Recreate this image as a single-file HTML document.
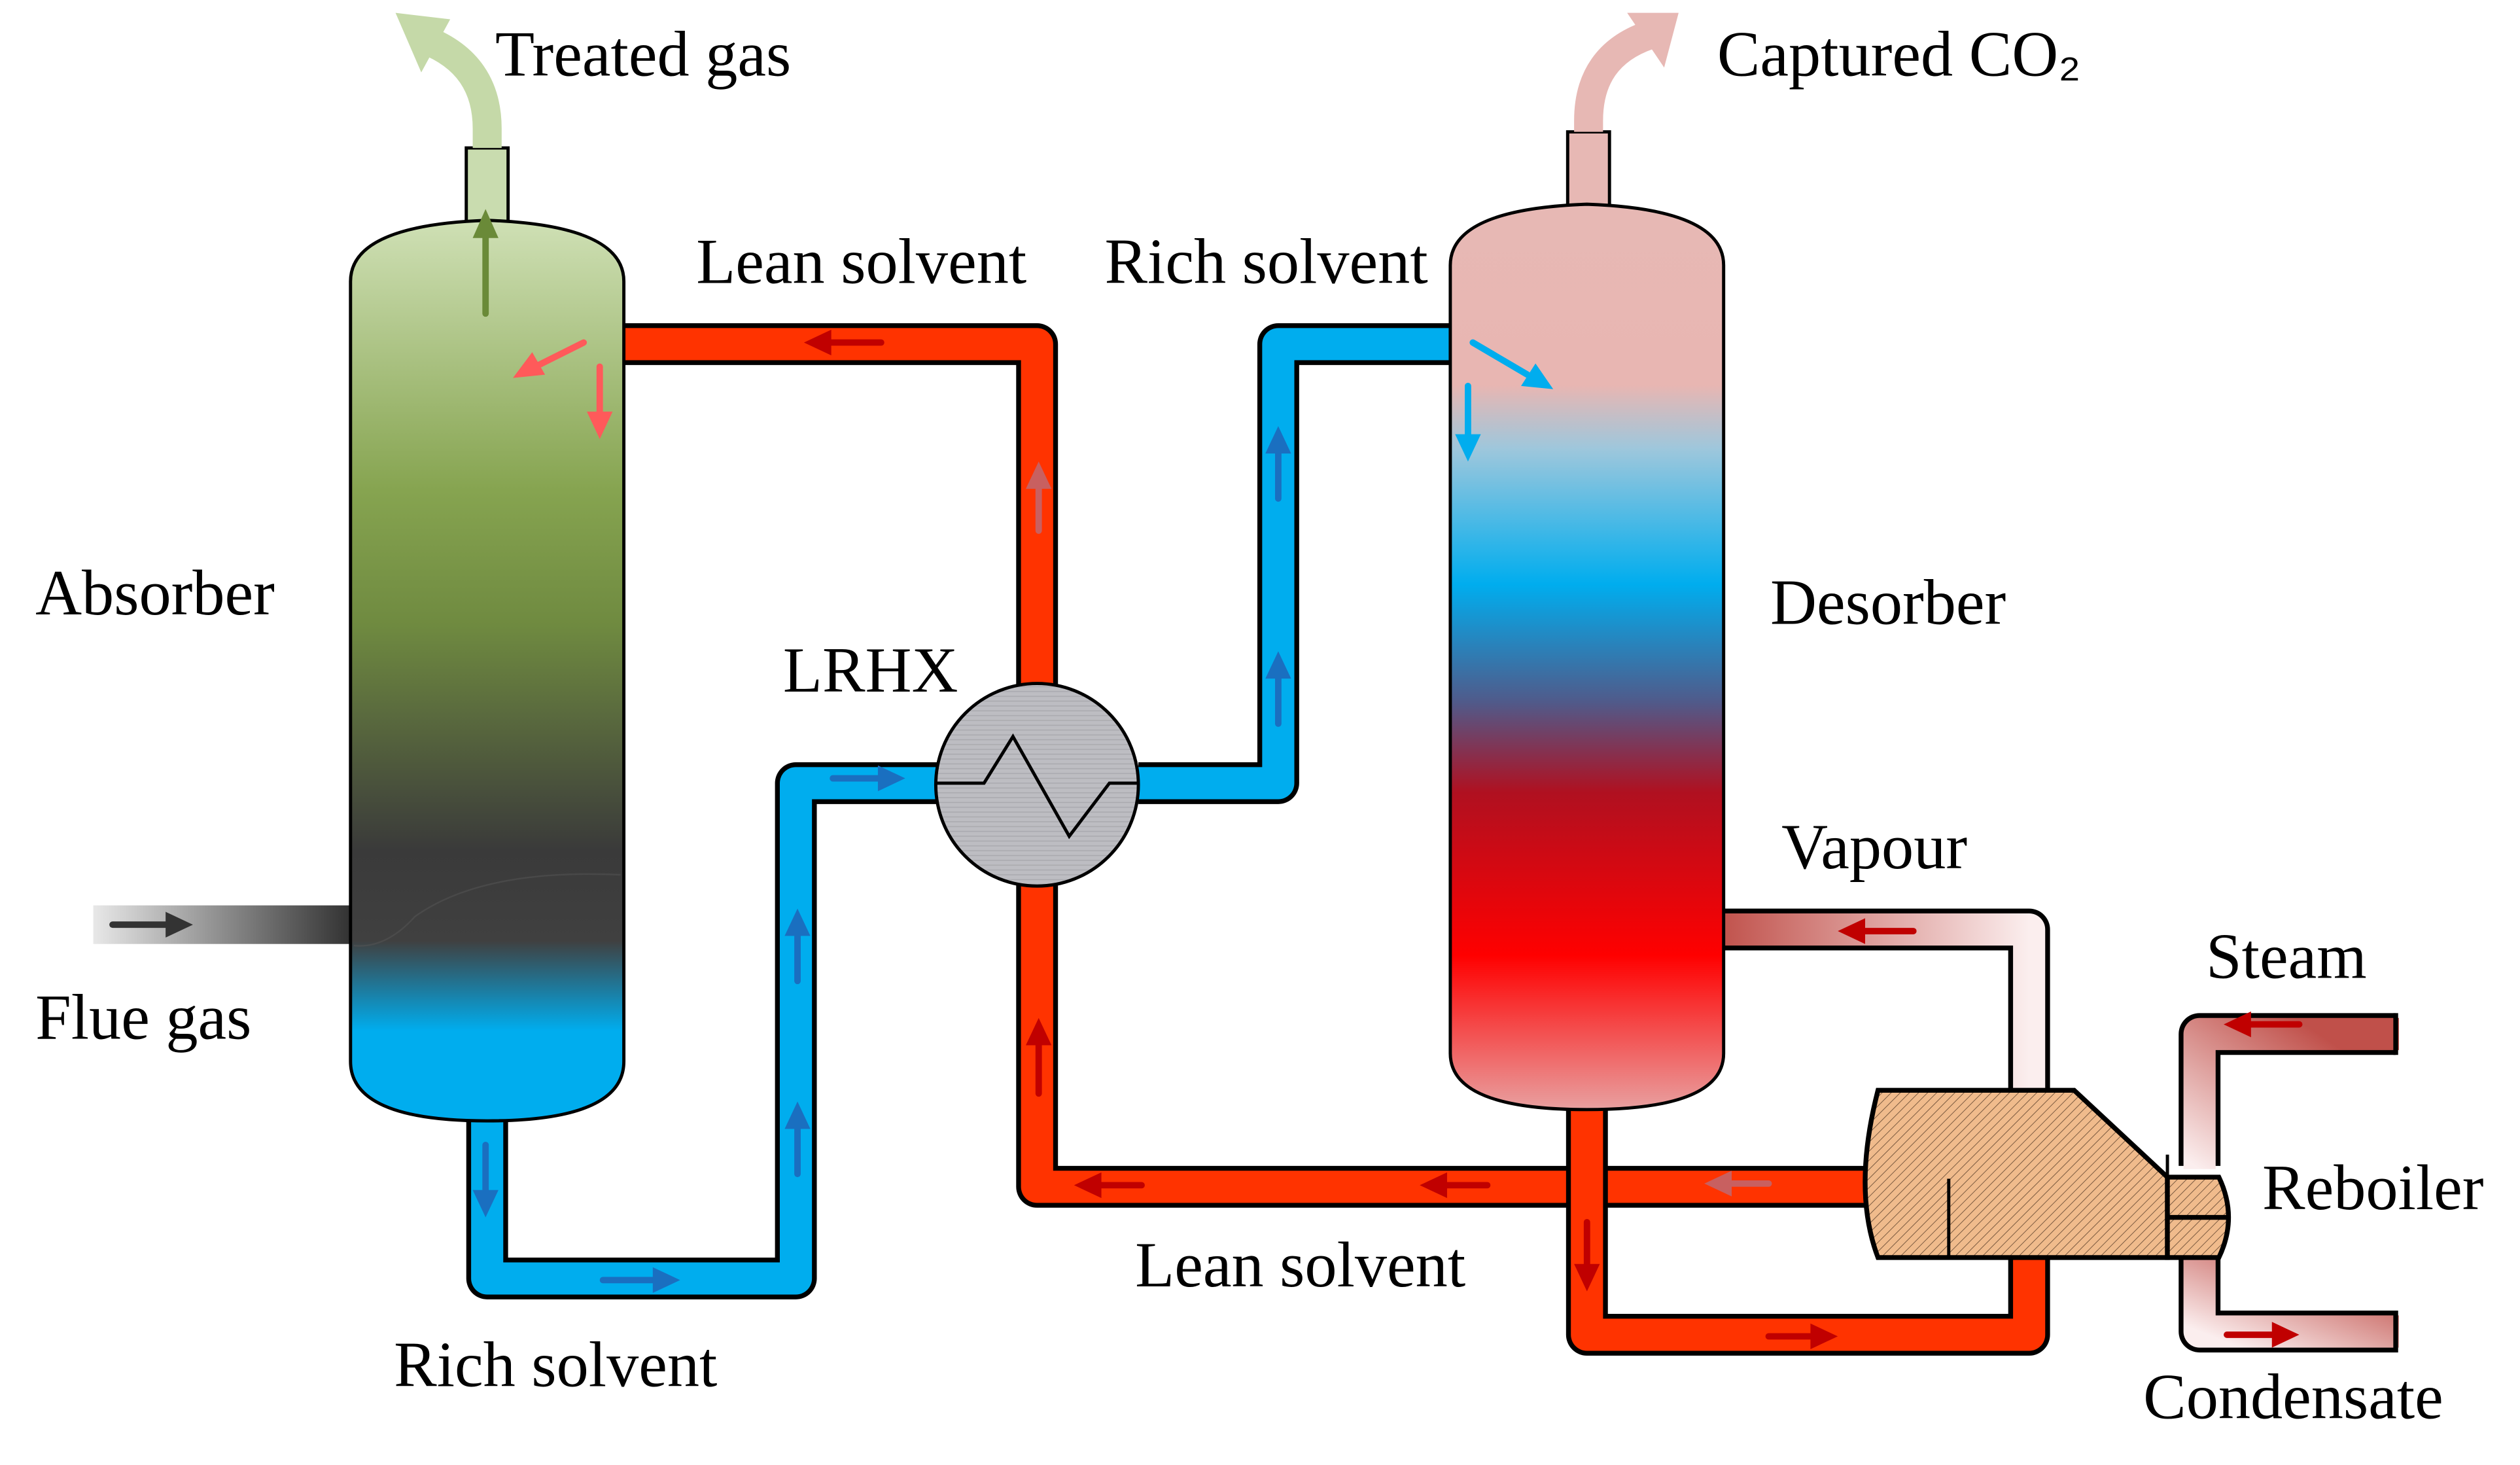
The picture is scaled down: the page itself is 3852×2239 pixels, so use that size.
<!DOCTYPE html>
<html><head><style>html,body{margin:0;padding:0;background:#fff}svg{display:block}</style></head><body>
<svg width="3852" height="2239" viewBox="0 0 1567 911" preserveAspectRatio="xMinYMin meet" xmlns="http://www.w3.org/2000/svg" font-family="Liberation Serif, serif" font-size="40">
<defs>
<linearGradient id="abs" x1="0" y1="0" x2="0" y2="1">
<stop offset="0" stop-color="#cfe0b5"/><stop offset="0.3" stop-color="#86a450"/><stop offset="0.45" stop-color="#6f8a40"/><stop offset="0.7" stop-color="#3a3a3a"/><stop offset="0.8" stop-color="#404040"/><stop offset="0.9" stop-color="#00adee"/><stop offset="1" stop-color="#00adee"/></linearGradient>
<linearGradient id="des" x1="0" y1="0" x2="0" y2="1">
<stop offset="0" stop-color="#e7b8b4"/><stop offset="0.2" stop-color="#e8b6b2"/><stop offset="0.27" stop-color="#9ec7dc"/><stop offset="0.42" stop-color="#00adee"/><stop offset="0.55" stop-color="#505a8a"/><stop offset="0.65" stop-color="#b01020"/><stop offset="0.83" stop-color="#ff0000"/><stop offset="1" stop-color="#e8a0a0"/></linearGradient>
<linearGradient id="flue" x1="0" y1="0" x2="1" y2="0"><stop offset="0" stop-color="#e8e8e8"/><stop offset="1" stop-color="#303030"/></linearGradient>
<linearGradient id="vap" x1="0" y1="0" x2="1" y2="0"><stop offset="0" stop-color="#c0504a"/><stop offset="1" stop-color="#fbeeee"/></linearGradient>
<linearGradient id="stm" x1="1" y1="0" x2="0" y2="1"><stop offset="0.2" stop-color="#c0504a"/><stop offset="1" stop-color="#fbeeee"/></linearGradient>
<pattern id="hatch" width="4" height="4" patternUnits="userSpaceOnUse" patternTransform="rotate(45)"><rect width="4" height="4" fill="#f0bb8c"/><line x1="0" y1="0" x2="0" y2="4" stroke="#7a5a40" stroke-width="0.8"/></pattern>
<pattern id="hx" width="3" height="3" patternUnits="userSpaceOnUse"><rect width="3" height="3" fill="#bdbdc2"/><line x1="0" y1="1" x2="3" y2="1" stroke="#a9a9ae" stroke-width="0.6"/></pattern>
</defs>
<g fill="none" stroke-linejoin="round" stroke-linecap="butt">
<path d="M388,214 H645 V430" stroke="#000" stroke-width="26"/><path d="M386,214 H645 V430" stroke="#ff3300" stroke-width="20"/>
<path d="M708,487 H795 V214 H904" stroke="#000" stroke-width="26"/><path d="M706,487 H795 V214 H906" stroke="#00adee" stroke-width="20"/>
<path d="M303,690 V795 H495 V487 H584" stroke="#000" stroke-width="26"/><path d="M303,688 V795 H495 V487 H586" stroke="#00adee" stroke-width="20"/>
<path d="M645,548 V738 H1160" stroke="#000" stroke-width="26"/><path d="M645,546 V738 H1162" stroke="#ff3300" stroke-width="20"/>
<path d="M987,682 V830 H1262 V780" stroke="#000" stroke-width="26"/><path d="M987,680 V830 H1262 V778" stroke="#ff3300" stroke-width="20"/>
<path d="M1262,682 V578 H1070" stroke="#000" stroke-width="26"/><path d="M1262,684 V578 H1068" stroke="url(#vap)" stroke-width="20"/>
<path d="M1490,643 H1368 V725" stroke="#000" stroke-width="26"/><path d="M1492,643 H1368 V727" stroke="url(#stm)" stroke-width="20"/>
<path d="M1368,780 V828 H1490" stroke="#000" stroke-width="26"/><path d="M1368,778 V828 H1492" stroke="url(#stm)" stroke-width="20"/>
<line x1="1490" y1="630" x2="1490" y2="656" stroke="#000" stroke-width="3"/>
<line x1="1490" y1="815" x2="1490" y2="841" stroke="#000" stroke-width="3"/>
</g>
<rect x="58" y="563" width="162" height="24" fill="url(#flue)"/>
<rect x="290" y="92" width="26" height="60" fill="#c9dcaf" stroke="#000" stroke-width="2"/>
<path d="M218,175 Q218,140 303,137 Q388,140 388,175 V660 Q388,697 303,697 Q218,697 218,660 Z" fill="url(#abs)" stroke="#000" stroke-width="2"/>
<path d="M220,588 Q240,590 258,570 Q300,540 386,544" fill="none" stroke="#555" stroke-width="1" opacity="0.5"/>
<rect x="975" y="82" width="26" height="60" fill="#e7b8b4" stroke="#000" stroke-width="2"/>
<path d="M902,165 Q902,130 987,127 Q1072,130 1072,165 V655 Q1072,690 987,690 Q902,690 902,655 Z" fill="url(#des)" stroke="#000" stroke-width="2"/>
<path d="M303,92 V80 Q303,40 265,25" fill="none" stroke="#c5d9a8" stroke-width="18"/>
<polygon points="246,8 262,45 280,12" fill="#c5d9a8"/>
<path d="M988,82 V75 Q988,35 1025,22" fill="none" stroke="#e7b8b4" stroke-width="18"/>
<polygon points="1044,8 1012,8 1035,42" fill="#e7b8b4"/>
<circle cx="645" cy="488" r="63" fill="url(#hx)" stroke="#000" stroke-width="2"/>
<polyline points="582,487 612,487 630,458 665,520 690,487 708,487" fill="none" stroke="#000" stroke-width="2"/>
<path d="M1168,678 H1290 L1348,732 V782 H1168 Q1152,740 1168,678 Z" fill="url(#hatch)" stroke="#000" stroke-width="3"/>
<path d="M1348,732 H1380 Q1392,757 1380,782 H1348 Z" fill="url(#hatch)" stroke="#000" stroke-width="3"/>
<line x1="1348" y1="757" x2="1385" y2="757" stroke="#000" stroke-width="3"/>
<line x1="1212" y1="733" x2="1212" y2="782" stroke="#000" stroke-width="2"/>
<line x1="1348" y1="718" x2="1348" y2="732" stroke="#000" stroke-width="2"/>
<g stroke-width="4" stroke-linecap="round">
<g stroke="#333" fill="#333"><line x1="70" y1="575" x2="105" y2="575"/><polygon points="120,575 103,567 103,583" stroke="none"/></g>
<g stroke="#c00000" fill="#c00000"><line x1="548" y1="213" x2="515" y2="213"/><polygon points="500,213 517,205 517,221" stroke="none"/>
<line x1="1190" y1="579" x2="1158" y2="579"/><polygon points="1143,579 1160,571 1160,587" stroke="none"/>
<line x1="1430" y1="637" x2="1398" y2="637"/><polygon points="1383,637 1400,629 1400,645" stroke="none"/>
<line x1="1385" y1="830" x2="1415" y2="830"/><polygon points="1430,830 1413,822 1413,838" stroke="none"/>
<line x1="1100" y1="831" x2="1128" y2="831"/><polygon points="1143,831 1126,823 1126,839" stroke="none"/>
<line x1="710" y1="737" x2="683" y2="737"/><polygon points="668,737 685,729 685,745" stroke="none"/>
<line x1="925" y1="737" x2="898" y2="737"/><polygon points="883,737 900,729 900,745" stroke="none"/>
<line x1="646" y1="680" x2="646" y2="648"/><polygon points="646,633 638,650 654,650" stroke="none"/>
<line x1="987" y1="760" x2="987" y2="788"/><polygon points="987,803 979,786 995,786" stroke="none"/></g>
<g stroke="#c86060" fill="#c86060"><line x1="646" y1="330" x2="646" y2="302"/><polygon points="646,287 638,304 654,304" stroke="none"/>
<line x1="1100" y1="736" x2="1075" y2="736"/><polygon points="1060,736 1077,728 1077,744" stroke="none"/></g>
<g stroke="#1a6fc0" fill="#1a6fc0"><line x1="518" y1="484" x2="548" y2="484"/><polygon points="563,484 546,476 546,492" stroke="none"/>
<line x1="375" y1="796" x2="408" y2="796"/><polygon points="423,796 406,788 406,804" stroke="none"/>
<line x1="496" y1="610" x2="496" y2="580"/><polygon points="496,565 488,582 504,582" stroke="none"/>
<line x1="496" y1="730" x2="496" y2="700"/><polygon points="496,685 488,702 504,702" stroke="none"/>
<line x1="795" y1="310" x2="795" y2="280"/><polygon points="795,265 787,282 803,282" stroke="none"/>
<line x1="795" y1="450" x2="795" y2="420"/><polygon points="795,405 787,422 803,422" stroke="none"/>
<line x1="302" y1="712" x2="302" y2="742"/><polygon points="302,757 294,740 310,740" stroke="none"/></g>
<g stroke="#00adee" fill="#00adee"><line x1="916" y1="213" x2="950" y2="233"/><polygon points="966,242 946,240 955,226" stroke="none"/>
<line x1="913" y1="240" x2="913" y2="272"/><polygon points="913,287 905,270 921,270" stroke="none"/></g>
<g stroke="#ff5a5a" fill="#ff5a5a"><line x1="363" y1="213" x2="333" y2="228"/><polygon points="319,235 331,219 339,233" stroke="none"/>
<line x1="373" y1="228" x2="373" y2="258"/><polygon points="373,273 365,256 381,256" stroke="none"/></g>
<g stroke="#6a8a38" fill="#6a8a38"><line x1="302" y1="195" x2="302" y2="145"/><polygon points="302,130 294,148 310,148" stroke="none"/></g>
</g>
<g fill="#000">
<text x="308" y="47">Treated gas</text>
<text x="1068" y="47">Captured CO<tspan font-family="Liberation Sans, sans-serif" font-size="36">₂</tspan></text>
<text x="433" y="176">Lean solvent</text>
<text x="687" y="176">Rich solvent</text>
<text x="22" y="382">Absorber</text>
<text x="487" y="430">LRHX</text>
<text x="1101" y="388">Desorber</text>
<text x="1108" y="540">Vapour</text>
<text x="1372" y="608">Steam</text>
<text x="1407" y="752">Reboiler</text>
<text x="22" y="646">Flue gas</text>
<text x="706" y="800">Lean solvent</text>
<text x="245" y="862">Rich solvent</text>
<text x="1333" y="882">Condensate</text>
</g>
</svg>
</body></html>
